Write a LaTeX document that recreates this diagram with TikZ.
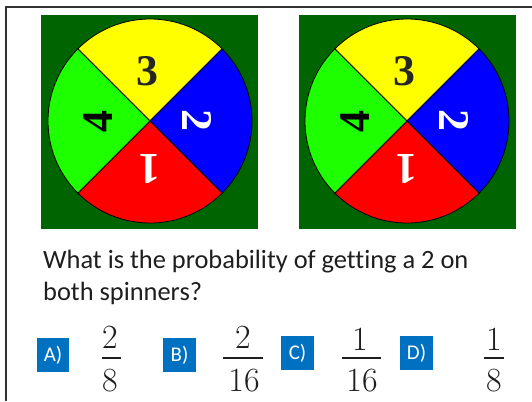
\documentclass[tikz,border=0pt]{standalone}
\usepackage{fontspec}
\usetikzlibrary{calc}
\setmainfont{Liberation Serif}
\newfontfamily\qfont[Ligatures=NoCommon]{Carlito}
\newfontfamily\numfont{Latin Modern Roman}
\definecolor{bggreen}{RGB}{0,100,0}
\definecolor{sgreen}{RGB}{30,255,0}
\definecolor{sblue}{RGB}{0,0,255}
\definecolor{sred}{RGB}{255,0,0}
\definecolor{syellow}{RGB}{255,255,0}
\definecolor{optblue}{RGB}{0,112,192}
\definecolor{txt}{RGB}{30,30,30}
\tikzset{
  sector/.style={draw=black, line width=0.8bp},
  spinlabel/.style={inner sep=0pt, font=\fontsize{44}{44}\selectfont\bfseries},
  optbox/.style={fill=optblue, text=white, inner sep=0pt, font=\qfont\fontsize{21}{21}\selectfont},
  fracnum/.style={inner sep=0pt, font=\numfont\fontsize{34}{34}\selectfont, text=txt},
  fracbar/.style={line width=2bp, draw=txt},
  qtext/.style={inner sep=0pt, anchor=base west, font=\qfont\fontsize{26.5}{26.5}\selectfont, text=txt}
}
\newcommand{\drawspinner}[5]{% name, cx, cy, sqleft, sqright
  \fill[bggreen] (#4,15) rectangle (#5,229);
  \coordinate (#1c) at (#2,#3);
  \filldraw[sector, fill=syellow] (#1c) -- ++(225:102) arc[start angle=225, end angle=315, radius=102] -- cycle;
  \filldraw[sector, fill=sblue] (#1c) -- ++(-45:102) arc[start angle=-45, end angle=45, radius=102] -- cycle;
  \filldraw[sector, fill=sred] (#1c) -- ++(45:102) arc[start angle=45, end angle=135, radius=102] -- cycle;
  \filldraw[sector, fill=sgreen] (#1c) -- ++(135:102) arc[start angle=135, end angle=225, radius=102] -- cycle;
  \node[spinlabel, text=black!85] (#1three) at ($(#1c)+(-2.5,-50)$) {3};
  \node[spinlabel, text=white, rotate=-90] (#1two) at ($(#1c)+(47.5,-1)$) {2};
  \node[spinlabel, text=white, rotate=180] (#1one) at ($(#1c)+(0,48)$) {1};
  \node[spinlabel, text=black, rotate=90] (#1four) at ($(#1c)+(-52,1)$) {4};
}
\begin{document}
\begin{tikzpicture}[x=1bp, y=-1bp]
\useasboundingbox (0,0) rectangle (532,401);
\fill[white] (0,0) rectangle (532,401);
\draw[line width=2bp, draw=black!80] (6,401) -- (6,7) -- (532,7);
\drawspinner{L}{150}{121}{41}{258}
\drawspinner{R}{407}{121}{299}{516}
\node[qtext] (q1) at (43,268) {What is the probability of getting a 2 on};
\node[qtext] (q2) at (43,300) {both spinners?};
% option boxes
\node[optbox, minimum width=32bp, minimum height=34bp] (A) at (53,355) {A)};
\node[optbox, minimum width=33bp, minimum height=34bp] (B) at (179.5,355) {B)};
\node[optbox, minimum width=33bp, minimum height=34bp] (C) at (297.5,353) {C)};
\node[optbox, minimum width=33bp, minimum height=34bp] (D) at (416.5,353) {D)};
% fractions
\node[fracnum] (An) at (110,337.5) {2};
\node[fracnum] (Ad) at (110,381) {8};
\draw[fracbar] (102,358) -- (121,358);
\node[fracnum] (Bn) at (243,337.5) {2};
\node[fracnum] (Bd) at (244,381) {16};
\draw[fracbar] (223,358) -- (263,358);
\node[fracnum] (Cn) at (360,339) {1};
\node[fracnum] (Cd) at (362,381) {16};
\draw[fracbar] (342,358) -- (381,358);
\node[fracnum] (Dn) at (494,339) {1};
\node[fracnum] (Dd) at (494,381) {8};
\draw[fracbar] (484,358) -- (504,358);
\end{tikzpicture}
\end{document}
